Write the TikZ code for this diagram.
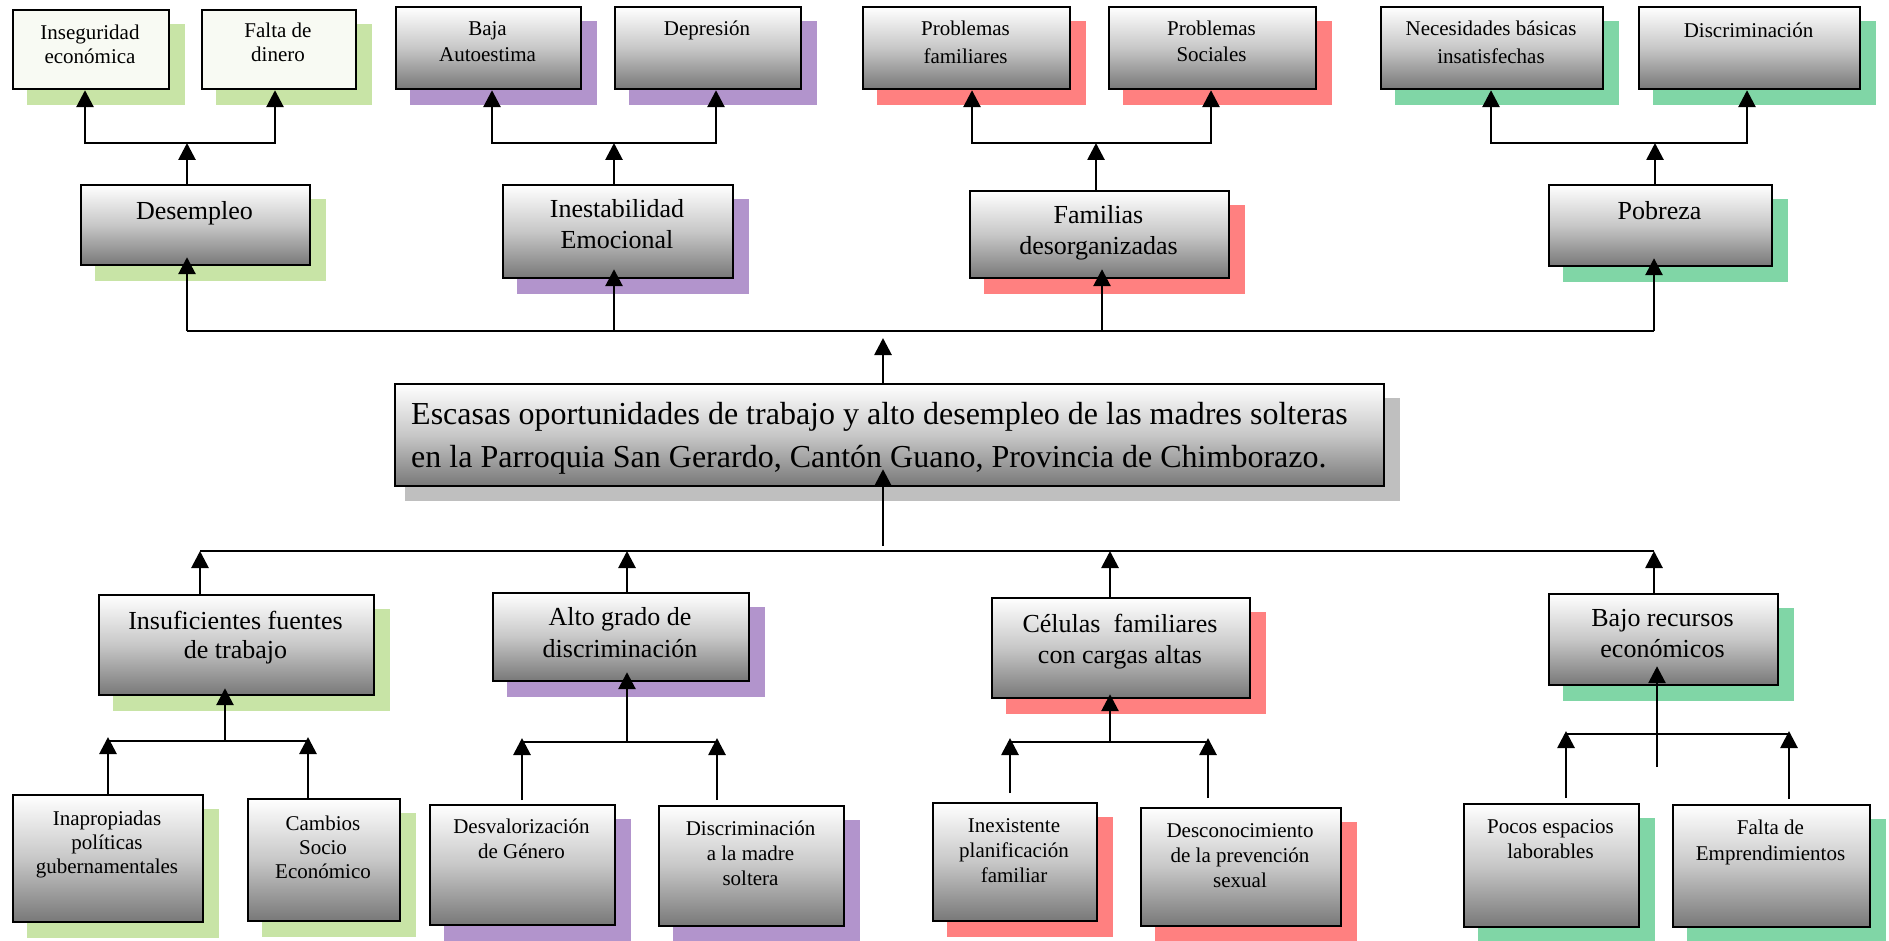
\documentclass[tikz,border=0pt]{standalone}
\usepackage{fontspec}
\setmainfont{Liberation Serif}
\usetikzlibrary{arrows.meta}
\definecolor{cgreen}{HTML}{C8E4A6}
\definecolor{cpurple}{HTML}{B294CC}
\definecolor{cred}{HTML}{FF8080}
\definecolor{cteal}{HTML}{80D6A6}
\definecolor{cgray}{HTML}{BFBFBF}
\definecolor{cpale}{HTML}{F8FAF3}
\tikzset{
 gbox/.style={draw=black, line width=2.2pt, top color=white, bottom color=black!53, middle color=black!22, inner sep=0pt, anchor=north west},
 pbox/.style={draw=black, line width=2.2pt, fill=cpale, inner sep=0pt, anchor=north west},
 shad/.style={inner sep=0pt, anchor=north west, draw=none},
 arr/.style={line width=2.8pt, -{Triangle[width=17pt,length=17pt]}},
 thinbar/.style={line width=2.2pt},
}
\newcommand{\fS}[1]{\fontsize{21}{#1}\selectfont}
\newcommand{\fM}[1]{\fontsize{26}{#1}\selectfont}
% #1 name #2 style #3 x1 #4 y1 #5 x2 #6 y2 #7 shadow colour #8 baseline offset #9 text
\newcommand{\mkbox}[9]{%
 \node[shad, fill=#7, minimum width={(#5-#3+2)*1pt}, minimum height={(#6-#4+2)*1pt}] (#1s) at ({#3+15},{#4+15}) {};
 \node[#2, minimum width={(#5-#3)*1pt}, minimum height={(#6-#4)*1pt}] (#1) at (#3,#4) {};
 \node[anchor=base, inner sep=0pt] (#1t) at ({(#3+#5)/2},{#4+#8}) {\parbox[t]{\dimexpr#5pt-#3pt\relax}{\centering #9}};
}
\begin{document}
\begin{tikzpicture}[x=1pt,y=-1pt]
\useasboundingbox (0,0) rectangle (1889,941);
\clip (0,0) rectangle (1889,941);
\fill[white] (0,0) rectangle (1889,941);

% ---------- top row ----------
\mkbox{ins}{pbox}{12}{9}{168}{88}{cgreen}{31}{\fS{24}Inseguridad\\económica}
\mkbox{fal}{pbox}{201}{9}{355}{88}{cgreen}{29}{\fS{24}Falta de\\dinero}
\mkbox{baj}{gbox}{395}{6}{580}{88}{cpurple}{30}{\fS{26}Baja\\Autoestima}
\mkbox{dep}{gbox}{614}{6}{800}{88}{cpurple}{30}{\fS{26}Depresión}
\mkbox{pfa}{gbox}{862}{6}{1069}{88}{cred}{30}{\fS{28}Problemas\\familiares}
\mkbox{pso}{gbox}{1108}{6}{1315}{88}{cred}{30}{\fS{26}Problemas\\Sociales}
\mkbox{nec}{gbox}{1380}{6}{1602}{88}{cteal}{30}{\fS{28}Necesidades básicas\\insatisfechas}
\mkbox{dis}{gbox}{1638}{6}{1859}{88}{cteal}{32}{\fS{26}Discriminación}

% ---------- second row ----------
\mkbox{des}{gbox}{80}{184}{309}{264}{cgreen}{36}{\fM{31}Desempleo}
\mkbox{ine}{gbox}{502}{184}{732}{277}{cpurple}{34}{\fM{31}Inestabilidad\\Emocional}
\mkbox{fam}{gbox}{969}{190}{1228}{277}{cred}{34}{\fM{31}Familias\\desorganizadas}
\mkbox{pob}{gbox}{1548}{184}{1771}{265}{cteal}{36}{\fM{31}Pobreza}

% ---------- central problem ----------
\node[shad, fill=cgray, minimum width=995pt, minimum height=103pt] (cens) at (405,398) {};
\node[gbox, minimum width=989pt, minimum height=102pt] (cen) at (394,383) {};
\node[anchor=base west, inner sep=0pt] (cent) at (411,424) {\parbox[t]{960pt}{\raggedright\fontsize{32}{43}\selectfont Escasas oportunidades de trabajo y alto desempleo de las madres solteras\\en la Parroquia San Gerardo, Cantón Guano, Provincia de Chimborazo.}};

% ---------- lower level 2 ----------
\mkbox{insf}{gbox}{98}{594}{373}{694}{cgreen}{35}{\fM{29}Insuficientes fuentes\\de trabajo}
\mkbox{alt}{gbox}{492}{592}{748}{680}{cpurple}{33}{\fM{32}Alto grado de\\discriminación}
\mkbox{cel}{gbox}{991}{597}{1249}{697}{cred}{35}{\fM{31}Células~ familiares\\con cargas altas}
\mkbox{bajr}{gbox}{1548}{593}{1777}{684}{cteal}{33}{\fM{31}Bajo recursos\\económicos}

% ---------- bottom row ----------
\mkbox{inap}{gbox}{12}{794}{202}{921}{cgreen}{31}{\fS{24}Inapropiadas\\políticas\\gubernamentales}
\mkbox{camb}{gbox}{247}{798}{399}{920}{cgreen}{32}{\fS{24}Cambios\\Socio\\Económico}
\mkbox{desv}{gbox}{429}{804}{614}{924}{cpurple}{29}{\fS{25}Desvalorización\\de Género}
\mkbox{dmad}{gbox}{658}{805}{843}{925}{cpurple}{30}{\fS{25}Discriminación\\a la madre\\soltera}
\mkbox{inex}{gbox}{932}{802}{1096}{920}{cred}{30}{\fS{25}Inexistente\\planificación\\familiar}
\mkbox{desc}{gbox}{1140}{807}{1340}{925}{cred}{30}{\fS{25}Desconocimiento\\de la prevención\\sexual}
\mkbox{pocos}{gbox}{1463}{803}{1638}{926}{cteal}{30}{\fS{25}Pocos espacios\\laborables}
\mkbox{femp}{gbox}{1672}{804}{1869}{926}{cteal}{30}{\fS{26}Falta de\\Emprendimientos}

% ---------- top clusters ----------
\coordinate (a1l) at (85,143);   \coordinate (a1m) at (187,143);  \coordinate (a1r) at (275,143);
\coordinate (a2l) at (492,143);  \coordinate (a2m) at (614,143);  \coordinate (a2r) at (716,143);
\coordinate (a3l) at (972,143);  \coordinate (a3m) at (1096,143); \coordinate (a3r) at (1211,143);
\coordinate (a4l) at (1491,143); \coordinate (a4m) at (1655,143); \coordinate (a4r) at (1747,143);

\draw[arr] (des.north -| a1m) -- (a1m);
\draw[arr] (a1m) -- (a1l) -- (ins.south -| a1l);
\draw[arr] (a1m) -- (a1r) -- (fal.south -| a1r);
\draw[arr] (ine.north -| a2m) -- (a2m);
\draw[arr] (a2m) -- (a2l) -- (baj.south -| a2l);
\draw[arr] (a2m) -- (a2r) -- (dep.south -| a2r);
\draw[arr] (fam.north -| a3m) -- (a3m);
\draw[arr] (a3m) -- (a3l) -- (pfa.south -| a3l);
\draw[arr] (a3m) -- (a3r) -- (pso.south -| a3r);
\draw[arr] (pob.north -| a4m) -- (a4m);
\draw[arr] (a4m) -- (a4l) -- (nec.south -| a4l);
\draw[arr] (a4m) -- (a4r) -- (dis.south -| a4r);

% ---------- main upper bar ----------
\coordinate (m1) at (187,331); \coordinate (m2) at (614,331);
\coordinate (m3) at (1102,331); \coordinate (m4) at (1654,331);
\draw[thinbar] (m1) -- (m4);
\draw[arr, shorten >=-9pt] (m1) -- (des.south -| m1);
\draw[arr, shorten >=-10pt] (m2) -- (ine.south -| m2);
\draw[arr, shorten >=-10pt] (m3) -- (fam.south -| m3);
\draw[arr, shorten >=-9pt] (m4) -- (pob.south -| m4);
\coordinate (ct) at (883,338);
\draw[arr] (cen.north -| ct) -- (ct);

% ---------- main lower bar ----------
\coordinate (n1) at (200,551); \coordinate (n2) at (627,551);
\coordinate (n3) at (1110,551); \coordinate (n4) at (1654,551);
\draw[thinbar] (n1) -- (n4);
\coordinate (cb) at (883,546);
\draw[arr, shorten >=-18pt] (cb) -- (cen.south -| cb);
\draw[arr] (insf.north -| n1) -- (n1);
\draw[arr] (alt.north -| n2) -- (n2);
\draw[arr] (cel.north -| n3) -- (n3);
\draw[arr] (bajr.north -| n4) -- (n4);

% ---------- lower clusters ----------
\coordinate (l1l) at (108,741); \coordinate (l1m) at (225,741); \coordinate (l1r) at (308,741);
\draw[thinbar] (l1l) -- (l1r);
\draw[arr, shorten >=-8pt] (l1m) -- (insf.south -| l1m);
\draw[arr, shorten >=-4pt] (inap.north -| l1l) -- (l1l);
\draw[arr, shorten >=-4pt] (camb.north -| l1r) -- (l1r);

\coordinate (l2l) at (522,742); \coordinate (l2m) at (627,742); \coordinate (l2r) at (717,742);
\draw[thinbar] (l2l) -- (l2r);
\draw[arr, shorten >=-10pt] (l2m) -- (alt.south -| l2m);
\draw[arr, shorten >=-4pt, shorten <=4pt] (desv.north -| l2l) -- (l2l);
\draw[arr, shorten >=-4pt, shorten <=5pt] (dmad.north -| l2r) -- (l2r);

\coordinate (l3l) at (1010,742); \coordinate (l3m) at (1110,742); \coordinate (l3r) at (1208,742);
\draw[thinbar] (l3l) -- (l3r);
\draw[arr, shorten >=-5pt] (l3m) -- (cel.south -| l3m);
\draw[arr, shorten >=-4pt, shorten <=9pt] (inex.north -| l3l) -- (l3l);
\draw[arr, shorten >=-4pt, shorten <=9pt] (desc.north -| l3r) -- (l3r);

\coordinate (l4l) at (1566,734); \coordinate (l4r) at (1789,734); \coordinate (l4t) at (1657,767);
\draw[thinbar] (l4l) -- (l4r);
\draw[arr, shorten >=-20pt] (l4t) -- (bajr.south -| l4t);
\draw[arr, shorten >=-3pt, shorten <=5pt] (pocos.north -| l4l) -- (l4l);
\draw[arr, shorten >=-3pt, shorten <=5pt] (femp.north -| l4r) -- (l4r);
\end{tikzpicture}
\end{document}
